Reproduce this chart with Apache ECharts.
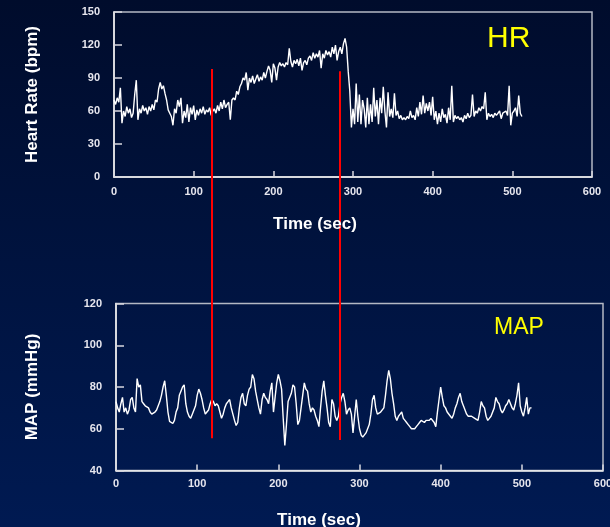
<!DOCTYPE html>
<html>
<head>
<meta charset="utf-8">
<script src="https://cdn.jsdelivr.net/npm/echarts@6/dist/echarts.min.js"></script>
<style>
html,body{margin:0;padding:0;background:#001238;}
#chart{width:610px;height:527px;}
</style>
</head>
<body>
<div id="chart"></div>
<script>
// ---- data ----
var sampleStep = 2; // seconds between samples
var hrValues = [
  70, 66, 72, 68, 81, 49, 60, 55, 64, 58,
  62, 54, 58, 75, 88, 52, 62, 58, 65, 60,
  63, 57, 64, 60, 66, 61, 70, 68, 80, 86,
  80, 83, 76, 70, 61, 58, 55, 47, 62, 58,
  70, 64, 72, 49, 60, 54, 66, 50, 63, 57,
  65, 52, 61, 56, 62, 58, 64, 57, 61, 59,
  63, 56, 60, 62, 58, 65, 60, 68, 62, 70,
  63, 66, 68, 52, 70, 72, 70, 78, 75, 82,
  85, 90, 88, 95, 79, 90, 86, 92, 85, 89,
  93, 87, 91, 88, 95, 90, 96, 101, 97, 86,
  103, 99, 88, 100, 104, 101, 103, 100, 104, 102,
  117, 105, 100, 106, 103, 107, 101, 108, 97, 104,
  106, 102, 108, 110, 106, 113, 108, 112, 109, 115,
  99, 112, 108, 115, 111, 114, 109, 118, 112, 120,
  106, 114, 118, 112, 121, 126, 118, 96, 78, 45,
  62, 48, 85, 50, 75, 48, 70, 62, 45, 72,
  48, 66, 50, 81, 55, 70, 48, 72, 58, 82,
  60, 45, 77, 55, 62, 54, 76, 56, 60, 53,
  56, 52, 54, 52, 55, 53, 60, 54, 56, 52,
  63, 55, 68, 57, 74, 58, 67, 60, 68, 56,
  73, 52, 60, 48, 58, 50, 62, 54, 57, 49,
  63, 52, 83, 50, 56, 53, 55, 52, 54, 50,
  56, 53, 58, 54, 56, 75, 55, 60, 58, 63,
  60, 64, 62, 77, 52, 58, 55, 57, 54, 58,
  56, 55, 60, 53, 58, 57, 60, 56, 83, 47,
  58, 60, 63, 55, 74, 58, 55
];
var mapValues = [
  73, 70, 68, 72, 75, 68, 70, 67, 69, 74,
  75, 70, 68, 84, 80, 81, 73, 72, 71, 71,
  70, 68, 67, 67, 68, 69, 71, 73, 76, 80,
  83, 76, 68, 63.5, 63, 62.5, 64, 68, 70, 76,
  78, 80, 81, 72, 68, 66, 65, 67, 69, 71,
  76, 79, 77, 74, 70, 67, 68, 69, 72, 74,
  73, 71, 72, 71, 68, 65, 67, 70, 72, 73,
  74, 70, 67, 64, 61.6, 63, 70, 75, 77, 72,
  71, 76, 79, 80, 86, 84, 78, 74, 70, 67,
  74, 77, 75, 74, 72, 78, 82, 68, 75, 82,
  86, 83, 79, 65, 52, 62, 73, 73, 77, 81,
  80, 72, 62, 64, 70, 76, 82, 79, 78, 72,
  68, 70, 69, 66, 64, 61, 70, 78, 83, 76,
  70, 63, 61, 74, 72, 66, 64, 66, 72, 75,
  77, 73, 67, 69, 70, 67, 58, 66, 74, 66,
  60, 57, 56, 55.6, 58, 60, 62, 67, 74, 76,
  70, 67, 67, 68, 68, 70, 76, 83, 88, 84,
  77, 72, 66, 64, 66, 67, 68, 65, 64, 63,
  62, 61, 60, 59.5, 60, 61, 62, 63, 64, 64,
  63, 64, 63.6, 64, 65, 65, 63, 61, 68, 74,
  80, 75, 71, 70, 68, 67.6, 66, 65, 67, 70,
  72, 75, 77, 73, 71, 69, 67, 66, 66, 66,
  66, 65, 65, 64, 68, 73, 71, 70, 66, 64,
  65, 66, 66, 70, 75, 73, 72, 69, 67.6, 69,
  71, 72, 74, 72, 70, 69, 72, 76, 82, 71,
  68, 66, 70, 75, 67, 70, 70
];
var eventTimes = [122.6, 283.6];   // red marker lines (s, on the HR time scale)
var hrTicks = [0, 30, 60, 90, 120, 150];
var mapTicks = [40, 60, 80, 100, 120];
var timeTicks = [0, 100, 200, 300, 400, 500, 600];

function toPairs(vals){ return vals.map(function(v,i){ return [i*sampleStep, v]; }); }

var chart = echarts.init(document.getElementById('chart'), null, {renderer:'canvas'});
var FONT = '"Liberation Sans", Arial, sans-serif';
var labelStyle = {color:'#e6e6ee', fontWeight:'bold', fontSize:11, fontFamily:FONT};

function xAx(gi, margin){
  return {
    type:'value', gridIndex:gi, min:0, max:600, interval:100,
    axisLine:{show:true, onZero:false, lineStyle:{color:'#f2f2f2', width:1.5}},
    axisTick:{show:true, inside:true, length:6, lineStyle:{color:'#d8d8e0', width:1.5}},
    axisLabel:Object.assign({margin:margin, hideOverlap:false}, labelStyle),
    splitLine:{show:false}
  };
}
function yAx(gi, min, max, interval, name, gap){
  return {
    type:'value', gridIndex:gi, min:min, max:max, interval:interval,
    name:name, nameLocation:'middle', nameGap:gap, nameRotate:90,
    nameTextStyle:{color:'#ffffff', fontWeight:'bold', fontSize:17, fontFamily:FONT},
    axisLine:{show:true, onZero:false, lineStyle:{color:'#f2f2f2', width:1.5}},
    axisTick:{show:true, inside:true, length:8, lineStyle:{color:'#d8d8e0', width:1.5}},
    axisLabel:Object.assign({margin:14}, labelStyle),
    splitLine:{show:false}
  };
}

var option = {
  animation:false,
  backgroundColor:{type:'linear', x:0, y:0, x2:0, y2:1,
    colorStops:[{offset:0, color:'#000c2c'},{offset:1, color:'#001a52'}]},
  title:[
    {text:'HR', left:482, top:19, textStyle:{color:'#ffff00', fontSize:30, fontWeight:'normal', fontFamily:FONT}},
    {text:'MAP', left:489, top:311, textStyle:{color:'#ffff00', fontSize:23, fontWeight:'normal', fontFamily:FONT}},
    {text:'Time (sec)', left:310, top:211, textAlign:'center', textStyle:{color:'#ffffff', fontSize:17, fontWeight:'bold', fontFamily:FONT}},
    {text:'Time (sec)', left:314, top:507, textAlign:'center', textStyle:{color:'#ffffff', fontSize:17, fontWeight:'bold', fontFamily:FONT}}
  ],
  grid:[
    {left:114, top:12, width:478, height:165, show:true, borderColor:'#b4b8c4', borderWidth:1.5, backgroundColor:'transparent', outerBoundsMode:'none', containLabel:false},
    {left:116, top:303.5, width:487, height:167, show:true, borderColor:'#b4b8c4', borderWidth:1.5, backgroundColor:'transparent', outerBoundsMode:'none', containLabel:false},
    {left:114, top:12, width:478, height:458.7, show:false, outerBoundsMode:'none', containLabel:false}
  ],
  xAxis:[
    xAx(0, 9),
    xAx(1, 8),
    {type:'value', gridIndex:2, min:0, max:600, show:false}
  ],
  yAxis:[
    yAx(0, 0, 150, 30, 'Heart Rate (bpm)', 73),
    yAx(1, 40, 120, 20, 'MAP (mmHg)', 75),
    {type:'value', gridIndex:2, min:0, max:1, show:false}
  ],
  series:[
    {type:'line', xAxisIndex:0, yAxisIndex:0, data:toPairs(hrValues), showSymbol:false, symbol:'none',
     lineStyle:{color:'#ffffff', width:1.4}, silent:true},
    {type:'line', xAxisIndex:1, yAxisIndex:1, data:toPairs(mapValues), showSymbol:false, symbol:'none',
     lineStyle:{color:'#ffffff', width:1.4}, silent:true},
    {type:'line', xAxisIndex:2, yAxisIndex:2, data:[], silent:true,
     markLine:{silent:true, symbol:['none','none'], label:{show:false},
       lineStyle:{color:'#ff0000', width:2, type:'solid'},
       data:[
         [{coord:[eventTimes[0], 0.876]}, {coord:[eventTimes[0], 0.071]}],
         [{coord:[eventTimes[1], 0.871]}, {coord:[eventTimes[1], 0.067]}]
       ]}}
  ]
};
chart.setOption(option);
</script>
</body>
</html>
